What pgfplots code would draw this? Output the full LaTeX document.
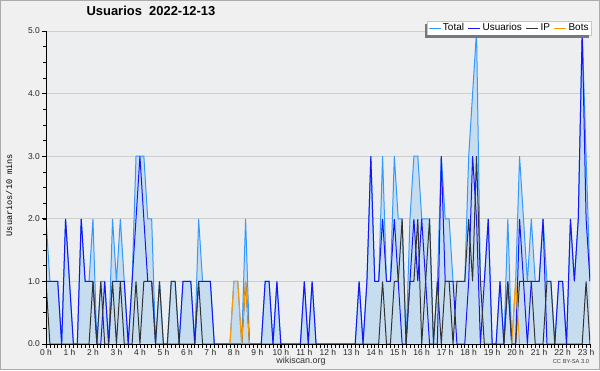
\documentclass[border=0pt]{standalone}
\usepackage{fontspec}
\setmainfont{Liberation Sans}
\setmonofont{Liberation Mono}
\usepackage{pgfplots}
\usepackage{pgfplotstable}
\pgfplotsset{compat=1.18}
\definecolor{bgc}{RGB}{240,240,240}
\definecolor{plotbg}{RGB}{236,238,240}
\definecolor{gridc}{RGB}{206,206,206}
\definecolor{totline}{RGB}{51,153,255}
\definecolor{totfill}{RGB}{198,221,240}
\definecolor{usrc}{RGB}{20,20,255}
\definecolor{ipc}{RGB}{51,51,51}
\definecolor{botc}{RGB}{255,153,0}
\definecolor{shadowc}{RGB}{120,120,120}

\pgfplotstableread{
i T U I B
0 2 1 1 nan
1 1 1 0 nan
2 1 1 0 nan
3 1 1 0 nan
4 0 0 0 nan
5 2 2 0 nan
6 1 1 0 nan
7 0 0 0 nan
8 0 0 0 nan
9 2 2 0 nan
10 1 1 0 nan
11 1 1 0 nan
12 2 1 1 nan
13 0 0 0 nan
14 1 0 1 nan
15 1 1 0 nan
16 0 0 0 nan
17 2 1 1 nan
18 1 1 0 nan
19 2 1 1 nan
20 1 1 0 nan
21 0 0 0 nan
22 1 1 0 nan
23 3 2 1 nan
24 3 3 0 nan
25 3 2 1 nan
26 2 1 1 nan
27 2 1 1 nan
28 0 0 0 nan
29 1 0 1 nan
30 0 0 0 nan
31 0 0 0 nan
32 1 0 1 nan
33 1 0 1 nan
34 0 0 0 nan
35 1 1 0 nan
36 1 1 0 nan
37 1 1 0 nan
38 0 0 0 nan
39 2 1 1 nan
40 1 1 0 nan
41 1 1 0 nan
42 1 1 0 nan
43 0 0 0 nan
44 0 0 0 nan
45 0 0 0 nan
46 0 0 0 nan
47 0 0 0 0
48 1 0 0 1
49 1 0 0 1
50 0 0 0 0
51 2 0 1 1
52 0 0 0 0
53 0 0 0 nan
54 0 0 0 nan
55 0 0 0 nan
56 1 1 0 nan
57 1 1 0 nan
58 0 0 0 nan
59 1 1 0 nan
60 0 0 0 nan
61 0 0 0 nan
62 0 0 0 nan
63 0 0 0 nan
64 0 0 0 nan
65 0 0 0 nan
66 1 1 0 nan
67 0 0 0 nan
68 1 1 0 nan
69 0 0 0 nan
70 0 0 0 nan
71 0 0 0 nan
72 0 0 0 nan
73 0 0 0 nan
74 0 0 0 nan
75 0 0 0 nan
76 0 0 0 nan
77 0 0 0 nan
78 0 0 0 nan
79 0 0 0 nan
80 1 1 0 nan
81 0 0 0 nan
82 1 1 0 nan
83 3 3 0 nan
84 1 1 0 nan
85 1 1 0 nan
86 3 2 1 nan
87 1 1 0 nan
88 1 1 0 nan
89 3 2 1 nan
90 2 1 1 nan
91 2 0 2 nan
92 0 0 0 nan
93 2 1 1 nan
94 3 2 1 nan
95 3 1 2 nan
96 2 2 0 nan
97 2 1 1 nan
98 2 0 2 nan
99 0 0 0 nan
100 1 0 1 nan
101 3 3 0 nan
102 2 1 1 nan
103 2 1 1 nan
104 1 1 0 nan
105 1 0 1 nan
106 1 0 1 nan
107 1 0 1 nan
108 3 1 2 nan
109 4 3 1 nan
110 5 2 3 nan
111 1 0 1 nan
112 1 1 0 nan
113 2 2 0 nan
114 0 0 0 nan
115 0 0 0 nan
116 1 1 0 nan
117 0 0 0 nan
118 2 1 1 nan
119 0 0 0 0
120 1 0 0 1
121 3 2 1 0
122 2 1 1 nan
123 1 0 1 nan
124 2 1 1 nan
125 1 1 0 nan
126 1 1 0 nan
127 2 2 0 nan
128 1 0 1 nan
129 1 0 1 nan
130 0 0 0 nan
131 1 1 0 nan
132 1 1 0 nan
133 0 0 0 nan
134 2 2 0 nan
135 1 1 0 nan
136 2 2 0 nan
137 5 5 0 nan
138 3 2 1 nan
139 1 1 0 nan
}\datatab

\begin{document}
\begin{tikzpicture}[x=1bp,y=1bp]
\useasboundingbox (0,0) rectangle (600,370);
\fill[bgc] (0,0) rectangle (600,370);
\draw[gray!65, line width=1bp] (0.5,0.5) rectangle (599.5,369.5);
\begin{axis}[
  at={(46bp,26bp)}, anchor=south west,
  scale only axis, width=544bp, height=313bp,
  xmin=0, xmax=139, ymin=0, ymax=5,
  axis lines*=left,
  axis line style={line width=0.9bp, black},
  axis background/.style={fill=plotbg},
  unbounded coords=jump,
  ymajorgrids, grid style={gridc, line width=0.9bp},
  xtick={0,6,...,138},
  xticklabels={0 h,1 h,2 h,3 h,4 h,5 h,6 h,7 h,8 h,9 h,10 h,11 h,12 h,13 h,14 h,15 h,16 h,17 h,18 h,19 h,20 h,21 h,22 h,23 h},
  minor xtick={0,1,...,139},
  ytick={0,1,...,5},
  minor ytick={0,0.25,...,5},
  tick align=outside,
  major tick length=4bp, minor tick length=3.5bp,
  tick style={black, line width=0.7bp},
  every minor tick/.style={black, line width=0.6bp},
  /pgf/number format/assume math mode=true,
  ticklabel style={font=\fontsize{8.5}{9}\selectfont, text=black!85},
  xticklabel style={inner sep=1.5bp},
  yticklabel style={inner sep=2bp},
  yticklabel style={/pgf/number format/.cd, fixed, fixed zerofill, precision=1},
  ylabel={Usuarios/10 mins},
  ylabel style={font=\ttfamily\fontsize{8.6}{9}\selectfont, at={(axis description cs:-0.068,0.476)}, anchor=center},
  title={Usuarios\ \ 2022-12-13},
  title style={font=\bfseries\fontsize{13}{14}\selectfont, at={(axis description cs:0.193,1.045)}, anchor=center},
  legend columns=4,
  legend style={name=legbox, at={(1.002,0.987)}, anchor=south east, draw=gray!45, fill=white,
    font=\fontsize{10}{11}\selectfont, inner sep=0.8bp, outer sep=0pt,
    cells={anchor=west}, nodes={inner sep=1.8bp},
    /tikz/every even column/.append style={column sep=2bp}},
  legend image code/.code={\draw[#1, line width=1bp] (0bp,0bp) -- (12bp,0bp);},
]
\addplot[fill=totfill, draw=none, forget plot] table[x=i,y=T]{\datatab} \closedcycle;
\addplot[totline, line width=1bp] table[x=i,y=T]{\datatab};
\addplot[usrc, line width=1bp] table[x=i,y=U]{\datatab};
\addplot[ipc, line width=1bp] table[x=i,y=I]{\datatab};
\addplot[botc, line width=1bp] table[x=i,y=B]{\datatab};
\legend{Total, Usuarios, IP, Bots}
\end{axis}
\draw[black, line width=0.9bp] (46,26) -- (590,26);
\draw[black, line width=0.9bp] (46,26) -- (46,339);
\fill[shadowc] ([shift={(-2.5bp,-2.5bp)}]legbox.south west) rectangle ([yshift=-2.5bp]legbox.north west);
\fill[shadowc] ([shift={(-2.5bp,-2.5bp)}]legbox.south west) rectangle ([xshift=-2.5bp]legbox.south east);
\node[font=\fontsize{9}{10}\selectfont, text=black!80] at (301,9) {wikiscan.org};
\node[font=\fontsize{5.8}{6}\selectfont, text=black!75] at (571,8) {CC BY-SA 3.0};
\end{tikzpicture}
\end{document}
